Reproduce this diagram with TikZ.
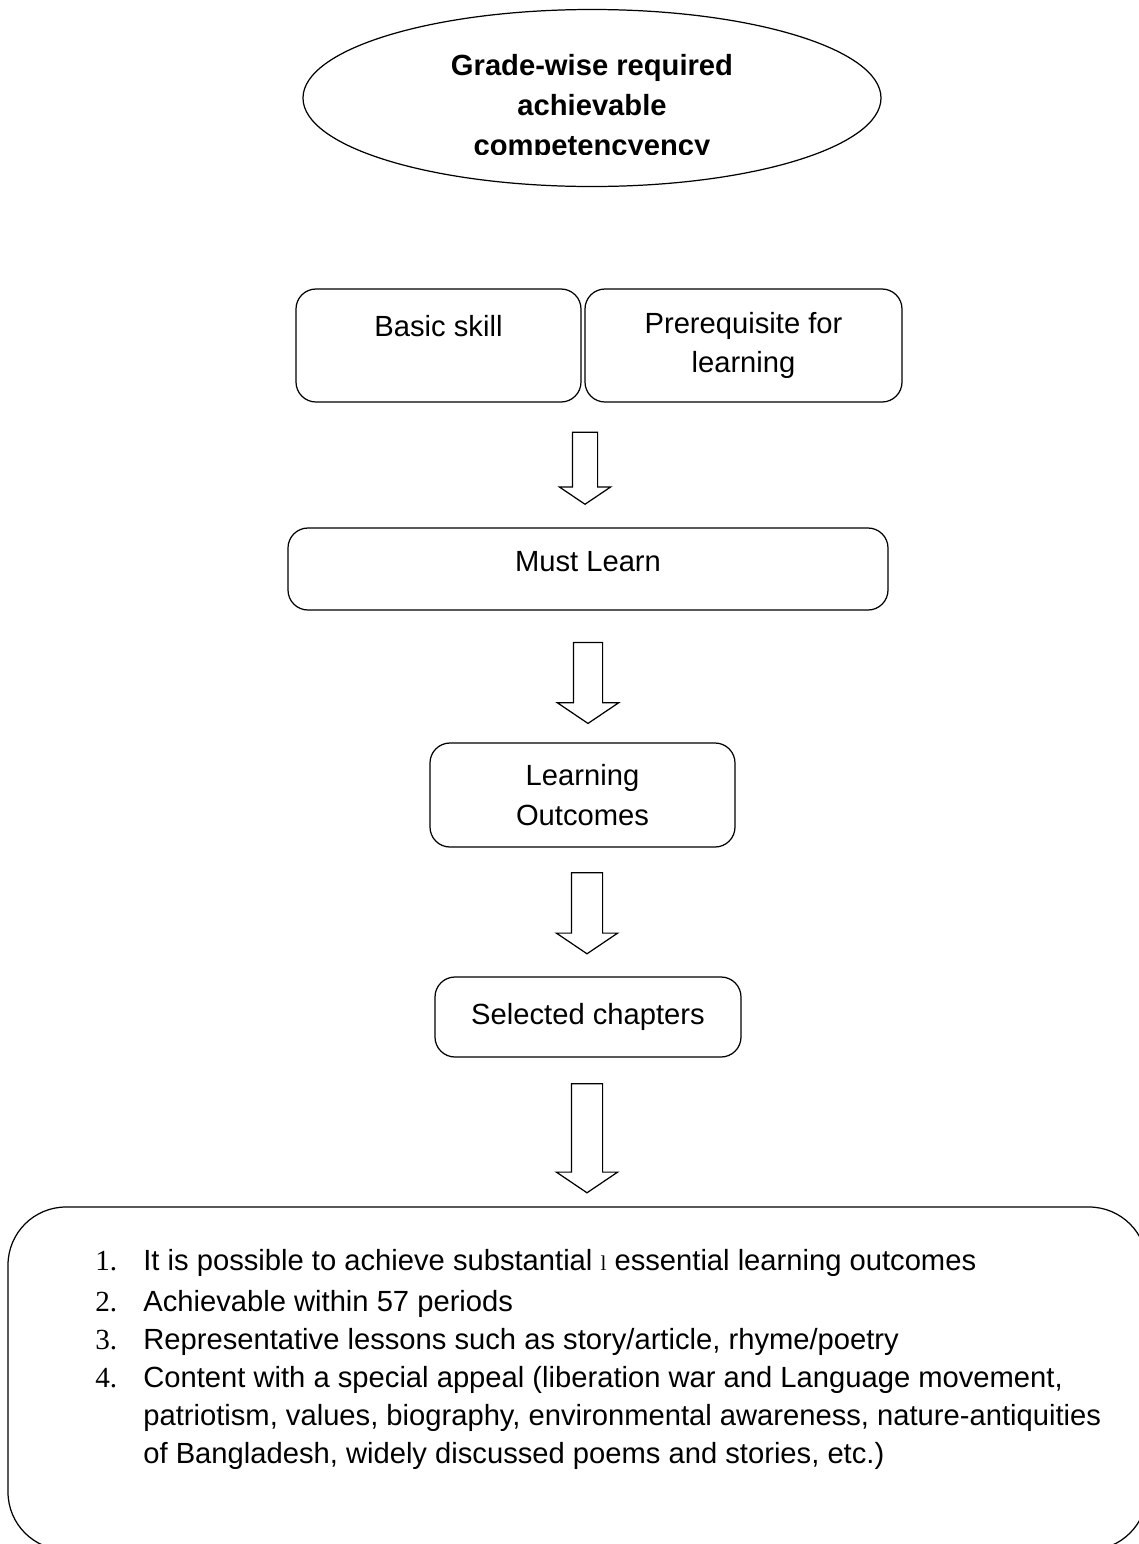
\documentclass[tikz,border=0pt]{standalone}
\usepackage{fontspec}
\setmainfont{Liberation Sans}
\newfontfamily\numfont{Liberation Serif}
\usetikzlibrary{shapes.geometric,shapes.arrows}
\tikzstyle{rbox} = [rectangle, rounded corners=0.4cm, draw=black, line width=0.7pt, text centered, align=center]
\tikzstyle{bigarrow} = [single arrow, draw=black, line width=0.7pt, shape border rotate=270, single arrow tip angle=112]

\begin{document}
\begin{tikzpicture}[font=\fontsize{16.6}{22.5}\selectfont]

            \useasboundingbox (0,0) rectangle (22.78,-30.88);

            %% goal

            \node (goal) [ellipse, draw=black, line width=0.7pt, minimum width=11.56cm, minimum height=3.54cm] at (11.84,-1.96) {};
            \begin{scope}
                \clip (0,0) rectangle (22.78,-3.08);
                \node (goaltext) [align=center, font=\fontsize{16.6}{22.8}\selectfont\bfseries, yshift=-0.20cm] at (goal) {Grade-wise required\\achievable\\competencyency};
            \end{scope}

            %% boxes

            \node (skill) [rbox, minimum width=5.70cm, minimum height=2.26cm] at (8.77,-6.91) {Basic skill\\\mbox{}};
            \node (prereq) [rbox, minimum width=6.34cm, minimum height=2.26cm] at (14.87,-6.91) {Prerequisite for\\learning};
            \node (must) [rbox, minimum width=12.0cm, minimum height=1.64cm, text depth=0.32cm] at (11.76,-11.38) {Must Learn};
            \node (outcomes) [rbox, minimum width=6.10cm, minimum height=2.08cm] at (11.65,-15.90) {Learning\\Outcomes};
            \node (chapters) [rbox, minimum width=6.12cm, minimum height=1.60cm] at (11.76,-20.34) {Selected chapters};
            \node (criteria) [rectangle, draw=black, line width=0.7pt, rounded corners=1.16cm, minimum width=22.78cm, minimum height=6.86cm] at (11.55,-27.57) {};

            %% arrows

            \node (a1) [bigarrow, inner sep=0.24cm, minimum height=1.44cm, minimum width=1.0cm, single arrow head extend=0.26cm] at (11.70,-9.28) {};
            \node (a2) [bigarrow, inner sep=0.28cm, minimum height=1.62cm, minimum width=1.2cm, single arrow head extend=0.32cm] at (11.76,-13.56) {};
            \node (a3) [bigarrow, inner sep=0.30cm, minimum height=1.62cm, minimum width=1.2cm, single arrow head extend=0.30cm] at (11.74,-18.16) {};
            \node (a4) [bigarrow, inner sep=0.30cm, minimum height=2.18cm, minimum width=1.2cm, single arrow head extend=0.30cm] at (11.74,-22.66) {};

            %% list

            \node (list) [anchor=base west, inner sep=0pt, font=\fontsize{16.6}{21.6}\selectfont] at (1.90,-25.40) {%
                \begin{tabular}[t]{@{}p{0.96cm}@{}l@{}}
                    {\numfont 1.} & It is possible to achieve substantial {\numfont\fontsize{12}{12}\selectfont l} essential learning outcomes \\[0.08cm]
                    {\numfont 2.} & Achievable within 57 periods \\
                    {\numfont 3.} & Representative lessons such as story/article, rhyme/poetry \\
                    {\numfont 4.} & Content with a special appeal (liberation war and Language movement, \\
                    & patriotism, values, biography, environmental awareness, nature-antiquities \\
                    & of Bangladesh, widely discussed poems and stories, etc.)
                \end{tabular}};

        \end{tikzpicture}
\end{document}
